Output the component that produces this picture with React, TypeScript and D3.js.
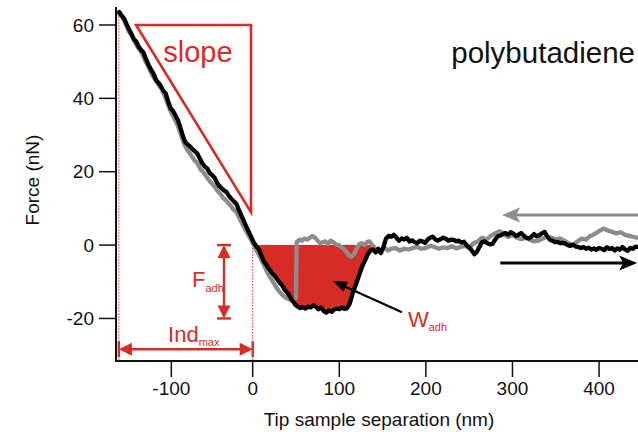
import React from "react";
import * as d3 from "d3";

const WIDTH = 638;
const HEIGHT = 432;

// Retract curve (black): tip-sample separation (nm) and force (nN)
const retractSep = [
  -164, -161, -158, -155, -152, -149, -146, -143, -140, -137, -134, -131, -128, -125, -122, -119, -116, -113, -110, -107,
  -104, -101, -98, -95, -92, -89, -86, -83, -80, -77, -74, -71, -68, -65, -62, -59, -56, -53, -50, -47,
  -44, -41, -38, -35, -32, -29, -26, -23, -20, -17, -14, -11, -8, -5, -2, 1, 4, 7, 10, 13,
  16, 19, 22, 25, 28, 31, 34, 37, 40, 43, 46, 49, 52, 55, 58, 61, 64, 67, 70, 73,
  76, 79, 82, 85, 88, 91, 94, 97, 100, 103, 106, 109, 112, 115, 118, 121, 124, 127, 130, 133,
  136, 139, 142, 145, 148, 151, 154, 157, 160, 163, 166, 169, 172, 175, 178, 181, 184, 187, 190, 193,
  196, 199, 202, 205, 208, 211, 214, 217, 220, 223, 226, 229, 232, 235, 238, 241, 244, 247, 250, 253,
  256, 259, 262, 265, 268, 271, 274, 277, 280, 283, 286, 289, 292, 295, 298, 301, 304, 307, 310, 313,
  316, 319, 322, 325, 328, 331, 334, 337, 340, 343, 346, 349, 352, 355, 358, 361, 364, 367, 370, 373,
  376, 379, 382, 385, 388, 391, 394, 397, 400, 403, 406, 409, 412, 415, 418, 421, 424, 427, 430, 433,
  436, 439, 442, 445,
];
const retractForce = [
  63.5, 62.6, 61.7, 60.2, 58.8, 57.6, 56.1, 55.4, 54.0, 53.2, 52.4, 50.6, 49.1, 47.8, 46.8, 45.1, 44.3, 43.4, 42.1, 41.4,
  39.2, 37.3, 36.6, 35.4, 34.1, 32.1, 29.9, 28.1, 27.4, 26.9, 26.1, 25.6, 24.9, 23.6, 22.3, 21.4, 20.9, 19.7, 19.1, 18.4,
  17.1, 16.1, 15.4, 14.9, 14.4, 13.3, 12.6, 11.9, 11.2, 9.6, 8.1, 6.6, 5.1, 3.7, 2.3, 0.8, -0.3, -1.2, -2.8, -4.5,
  -5.5, -6.5, -7.5, -8.3, -9.2, -10.2, -11.0, -12.2, -13.0, -14.0, -15.2, -16.2, -16.8, -17.2, -16.9, -17.3, -16.8, -17.0, -16.4, -16.8,
  -17.5, -17.0, -18.0, -18.4, -17.8, -18.2, -17.6, -17.3, -17.5, -17.0, -17.4, -17.2, -16.0, -13.5, -11.5, -9.5, -7.5, -5.5, -4.0, -2.5,
  -1.5, -1.2, -2.0, -1.0, -2.2, -0.5, 1.8, 2.5, 2.3, 2.8, 2.0, 1.2, 1.8, 1.5, 2.0, 1.0, 1.3, 0.8, 0.5, 1.2,
  1.0, 0.6, 1.5, 2.0, 2.3, 1.5, 1.2, 1.6, 2.0, 1.7, 1.2, 1.5, 1.4, 1.0, 1.2, 0.7, 0.9, 0.0, -0.6, -1.5,
  -2.5, -1.8, -0.4, 0.8, 1.0, 0.5, 0.2, 0.3, 1.5, 2.4, 2.6, 3.0, 3.3, 2.8, 3.5, 3.1, 2.5, 2.8, 3.3, 2.6,
  2.0, 1.8, 2.3, 3.0, 2.4, 2.7, 3.2, 3.6, 2.5, 1.5, 1.2, 0.8, 0.9, 0.5, 0.6, 0.4, 0.0, -0.2, 0.1, -0.4,
  -0.5, -0.8, -0.5, -1.0, -0.7, -1.2, -0.9, -1.3, -0.8, -1.0, -1.4, -0.6, -1.1, -0.8, -1.5, -0.9, -1.3, -0.5, -1.2, -1.6,
  -0.8, -1.0, -0.4, -0.6,
];

// Approach curve (grey)
const approachSep = [
  -164, -160, -156, -152, -148, -144, -140, -136, -132, -128, -124, -120, -116, -112, -108, -104, -100, -96, -92, -88,
  -84, -80, -76, -72, -68, -64, -60, -56, -52, -48, -44, -40, -36, -32, -28, -24, -20, -16, -12, -8,
  -4, 0, 4, 8, 12, 16, 20, 24, 28, 32, 36, 40, 44, 47, 50, 50.8, 54, 57, 60, 63,
  66, 69, 72, 75, 78, 81, 84, 87, 90, 93, 96, 99, 102, 105, 108, 111, 114, 117, 120, 123,
  126, 129, 132, 135, 138, 141, 144, 147, 150, 153, 156, 160, 165, 170, 175, 180, 185, 190, 195, 200,
  205, 210, 215, 220, 225, 230, 235, 240, 245, 250, 255, 260, 265, 270, 275, 280, 285, 290, 295, 300,
  305, 310, 315, 320, 325, 330, 335, 340, 345, 350, 355, 360, 365, 370, 375, 380, 385, 390, 395, 400,
  405, 410, 415, 420, 425, 430, 435, 440, 445,
];
const approachForce = [
  63.0, 62.0, 60.2, 58.2, 56.8, 55.0, 53.5, 52.2, 50.2, 48.6, 46.5, 45.2, 43.8, 42.5, 40.6, 38.2, 36.0, 34.4, 32.5, 30.0,
  27.4, 25.8, 24.6, 23.2, 22.3, 20.6, 19.7, 18.4, 17.2, 16.3, 15.0, 14.0, 12.8, 12.0, 11.0, 9.8, 9.0, 7.2, 5.4, 3.8,
  2.2, 0.6, -1.4, -3.0, -5.0, -7.0, -8.8, -10.2, -11.8, -13.0, -14.0, -14.6, -15.0, -14.8, -14.5, 0.8, 1.5, 1.2, 1.8, 1.5,
  2.0, 2.5, 2.0, 1.2, 0.5, 0.8, 1.0, 0.3, 1.2, 0.8, 0.2, 0.0, -0.5, -1.0, -1.8, -2.8, -3.2, -2.5, -1.0, 0.2,
  0.5, 0.0, 0.8, 1.0, 0.0, -0.8, -1.5, -1.8, -1.2, -0.8, -1.5, -1.0, -0.8, -1.5, -1.0, -1.2, -0.8, -0.5, -1.0, -0.8,
  -0.2, -0.5, -1.0, -0.6, -0.8, -0.3, -0.9, -0.5, -0.2, -0.8, 0.5, 1.0, 2.0, 1.5, 2.5, 3.2, 3.8, 3.0, 2.2, 2.8,
  2.0, 1.6, 2.0, 1.5, 1.0, 1.2, 1.8, 2.3, 2.0, 1.5, 1.8, 1.2, 0.5, 0.0, 1.0, 1.8, 1.5, 2.5, 3.0, 3.8,
  4.5, 4.0, 3.6, 3.2, 3.5, 2.8, 2.5, 2.2, 2.0,
];

const xTicks = [-100, 0, 100, 200, 300, 400];
const yTicks = [-20, 0, 20, 40, 60];
const xDomain = [-168, 0, 445];
const yDomain = [-31.6, 64.9];

// Annotations, in data units
const slopeTriangleSep = [-143.4, -2.1, -2.1];
const slopeTriangleForce = [60, 60, 9];
const adhesionSepRange = [0, 139];
const indMaxSep = [-164.5, 0];
const indMaxForce = -28.4;
const fAdhSep = -35.3;
const fAdhForce = [0, -20];
const wAdhArrowSep = [172.4, 92.7];
const wAdhArrowForce = [-18.3, -9.8];
const approachArrowSep = [445, 288];
const approachArrowForce = 8.2;
const retractArrowSep = [286, 444];
const retractArrowForce = -4.9;
const contactLineSep = [-164.5, 0];
const contactLineTopForce = [63.2, 0];

const RED = "#d62c25";
const FONT = "'Liberation Sans', Arial, Helvetica, sans-serif";

type P = [number, number];

function head(tip: P, from: P, len: number, half: number, notch = 0): string {
  const dx = from[0] - tip[0];
  const dy = from[1] - tip[1];
  const L = Math.hypot(dx, dy) || 1;
  const ux = dx / L, uy = dy / L;
  const px = -uy, py = ux;
  const b: P = [tip[0] + ux * len, tip[1] + uy * len];
  const pts: P[] = [
    tip,
    [b[0] + px * half, b[1] + py * half],
    [tip[0] + ux * (len - notch), tip[1] + uy * (len - notch)],
    [b[0] - px * half, b[1] - py * half],
  ];
  return pts.map((p) => p.join(",")).join(" ");
}

function back(tip: P, from: P, d: number): P {
  const dx = from[0] - tip[0];
  const dy = from[1] - tip[1];
  const L = Math.hypot(dx, dy) || 1;
  return [tip[0] + (dx / L) * d, tip[1] + (dy / L) * d];
}

export default function App() {
  const x = d3.scaleLinear().domain(xDomain).range([116, 252.7, 638]);
  const y = d3.scaleLinear().domain(yDomain).range([361, 7]);

  const retract = retractSep.map((s, i) => [s, retractForce[i]] as P);
  const approach = approachSep.map((s, i) => [s, approachForce[i]] as P);

  const line = d3
    .line<P>()
    .x((d) => x(d[0]))
    .y((d) => y(d[1]));

  const fillPts = retract.filter((d) => d[0] >= adhesionSepRange[0] && d[0] <= adhesionSepRange[1]);
  const area = d3
    .area<P>()
    .x((d) => x(d[0]))
    .y0(() => y(0))
    .y1((d) => y(Math.min(d[1], 0)));

  const tri = slopeTriangleSep.map((s, i) => `${x(s)},${y(slopeTriangleForce[i])}`).join(" ");

  const x0 = x(xDomain[0]);
  const x1 = x(xDomain[2]);
  const yb = y(yDomain[0]);
  const yt = y(yDomain[1]);

  const indA: P = [x(indMaxSep[0]), y(indMaxForce)];
  const indB: P = [x(indMaxSep[1]), y(indMaxForce)];
  const fA: P = [x(fAdhSep), y(fAdhForce[0])];
  const fB: P = [x(fAdhSep), y(fAdhForce[1])];
  const wFrom: P = [x(wAdhArrowSep[0]), y(wAdhArrowForce[0])];
  const wTip: P = [x(wAdhArrowSep[1]), y(wAdhArrowForce[1])];
  const apFrom: P = [x(approachArrowSep[0]), y(approachArrowForce)];
  const apTip: P = [x(approachArrowSep[1]), y(approachArrowForce)];
  const reFrom: P = [x(retractArrowSep[0]), y(retractArrowForce)];
  const reTip: P = [x(retractArrowSep[1]), y(retractArrowForce)];

  const barHalf = 8;

  return (
    <svg
      width={WIDTH}
      height={HEIGHT}
      style={{ position: "absolute", left: 0, top: 0, background: "#fff" }}
      fontFamily={FONT}
    >
      <rect width={WIDTH} height={HEIGHT} fill="#fff" />

      <path d={area(fillPts) ?? ""} fill={RED} stroke="none" />

      <line
        x1={x(contactLineSep[0])}
        x2={x(contactLineSep[0])}
        y1={y(contactLineTopForce[0])}
        y2={yb}
        stroke={RED}
        strokeWidth={1}
        strokeDasharray="1.5,1.5"
      />
      <line
        x1={x(contactLineSep[1])}
        x2={x(contactLineSep[1])}
        y1={y(contactLineTopForce[1])}
        y2={yb}
        stroke={RED}
        strokeWidth={1}
        strokeDasharray="1.5,1.5"
      />

      <polygon points={tri} fill="none" stroke={RED} strokeWidth={2.6} strokeLinejoin="miter" />
      <text x={x(-110)} y={y(49.9)} fill={RED} fontSize={29}>
        slope
      </text>

      <path d={line(approach) ?? ""} fill="none" stroke="#8c8c8c" strokeWidth={4.3} strokeLinejoin="round" strokeLinecap="round" />
      <path d={line(retract) ?? ""} fill="none" stroke="#000" strokeWidth={4.3} strokeLinejoin="round" strokeLinecap="round" />

      <line x1={x0} x2={x0} y1={yt} y2={yb + 1} stroke="#111" strokeWidth={2} />
      <line x1={x0 - 1} x2={x1} y1={yb} y2={yb} stroke="#111" strokeWidth={2} />
      {yTicks.map((t) => (
        <g key={"y" + t}>
          <line x1={x0 - 17} x2={x0} y1={y(t)} y2={y(t)} stroke="#111" strokeWidth={1.5} />
          <text x={x0 - 22} y={y(t)} dy="0.35em" textAnchor="end" fontSize={19} fill="#111">
            {t}
          </text>
        </g>
      ))}
      {xTicks.map((t) => (
        <g key={"x" + t}>
          <line x1={x(t)} x2={x(t)} y1={yb} y2={yb + 16} stroke="#111" strokeWidth={1.5} />
          <text x={x(t)} y={yb + 34} textAnchor="middle" fontSize={19} fill="#111">
            {t}
          </text>
        </g>
      ))}
      <text x={379} y={426} textAnchor="middle" fontSize={19} fill="#111">
        Tip sample separation (nm)
      </text>
      <text transform="translate(39,180) rotate(-90)" textAnchor="middle" fontSize={19} fill="#111">
        Force (nN)
      </text>

      <text x={x(441.5)} y={y(49.5)} textAnchor="end" fontSize={29.5} fill="#111">
        polybutadiene
      </text>

      <line x1={back(indA, indB, 10)[0]} x2={back(indB, indA, 10)[0]} y1={indA[1]} y2={indB[1]} stroke={RED} strokeWidth={2.4} />
      <polygon points={head(indA, indB, 13, 6.5)} fill={RED} />
      <polygon points={head(indB, indA, 13, 6.5)} fill={RED} />
      <line x1={indA[0]} x2={indA[0]} y1={indA[1] - barHalf} y2={indA[1] + barHalf} stroke={RED} strokeWidth={2.4} />
      <line x1={indB[0]} x2={indB[0]} y1={indB[1] - barHalf} y2={indB[1] + barHalf} stroke={RED} strokeWidth={2.4} />
      <text x={x(-104)} y={y(-26.4)} fill={RED} fontSize={22}>
        Ind
        <tspan fontSize={11} dy={4}>
          max
        </tspan>
      </text>

      <line x1={fA[0]} x2={fB[0]} y1={back(fA, fB, 10)[1]} y2={back(fB, fA, 10)[1]} stroke={RED} strokeWidth={2.4} />
      <polygon points={head(fA, fB, 13, 6.5)} fill={RED} />
      <polygon points={head(fB, fA, 13, 6.5)} fill={RED} />
      <line x1={fA[0] - 7} x2={fA[0] + 7} y1={fA[1]} y2={fA[1]} stroke={RED} strokeWidth={2.4} />
      <line x1={fB[0] - 7} x2={fB[0] + 7} y1={fB[1]} y2={fB[1]} stroke={RED} strokeWidth={2.4} />
      <text x={x(-74.6)} y={y(-11.5)} fill={RED} fontSize={22}>
        F
        <tspan fontSize={11} dy={5}>
          adh
        </tspan>
      </text>

      <line x1={wFrom[0]} y1={wFrom[1]} x2={back(wTip, wFrom, 10)[0]} y2={back(wTip, wFrom, 10)[1]} stroke="#000" strokeWidth={2.2} />
      <polygon points={head(wTip, wFrom, 14, 5.5)} fill="#000" />
      <text x={x(179.3)} y={y(-22.4)} fill={RED} fontSize={22}>
        W
        <tspan fontSize={11} dy={4}>
          adh
        </tspan>
      </text>

      <line x1={apFrom[0]} y1={apFrom[1]} x2={back(apTip, apFrom, 12)[0]} y2={apTip[1]} stroke="#8c8c8c" strokeWidth={3} />
      <polygon points={head(apTip, apFrom, 18, 7.5, 4)} fill="#8c8c8c" />
      <line x1={reFrom[0]} y1={reFrom[1]} x2={back(reTip, reFrom, 12)[0]} y2={reTip[1]} stroke="#000" strokeWidth={3} />
      <polygon points={head(reTip, reFrom, 18, 7.5, 4)} fill="#000" />
    </svg>
  );
}
